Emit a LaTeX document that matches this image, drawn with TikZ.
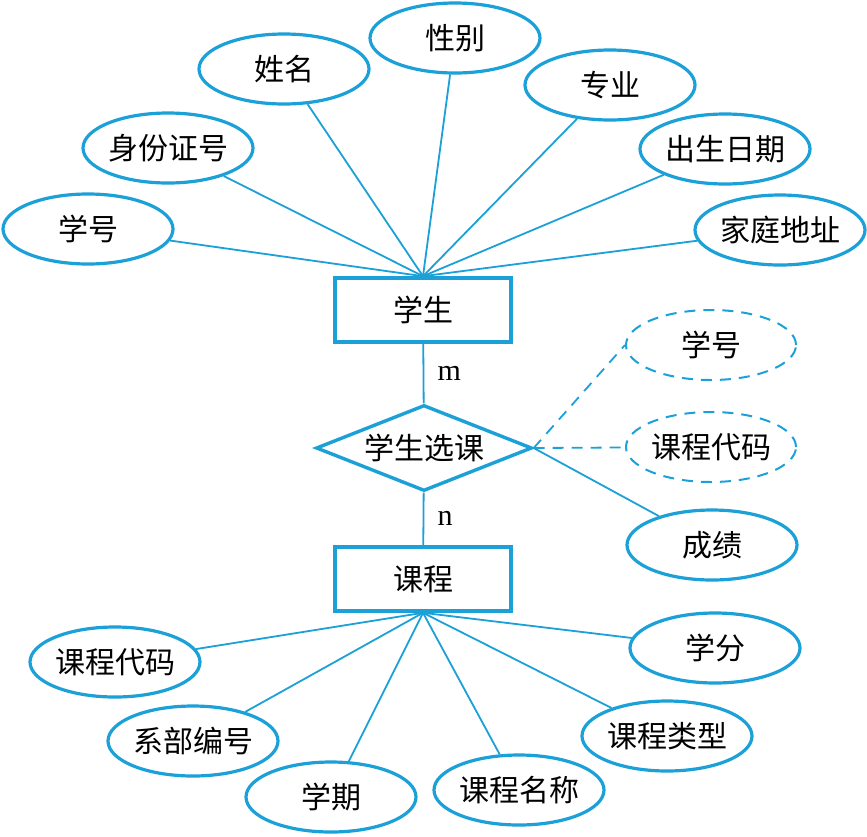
\documentclass[tikz,border=0pt]{standalone}
\usepackage{fontspec}
\setmainfont{Liberation Serif}
\newfontfamily\cjk{Noto Sans CJK SC}
\usepackage{tikz}
\usetikzlibrary{shapes.geometric}
\definecolor{erblue}{RGB}{27,160,215}

\begin{document}
\begin{tikzpicture}[x=1pt,y=-1pt,
  attr/.style={draw=erblue,line width=3.2pt,ellipse,minimum width=170pt,minimum height=70pt,inner sep=0pt,font=\cjk\fontsize{30}{32}\selectfont},
  keyattr/.style={attr,dashed,line width=2pt,dash pattern=on 11pt off 8pt},
  ent/.style={draw=erblue,line width=3.6pt,rectangle,minimum width=176pt,minimum height=64pt,font=\cjk\fontsize{30}{32}\selectfont},
  rel/.style={draw=erblue,line width=3.4pt,diamond,aspect=2.48,minimum width=216pt,minimum height=86pt,inner sep=0pt,font=\cjk\fontsize{30}{32}\selectfont},
  card/.style={right=10pt,font=\fontsize{30}{32}\selectfont},
  link/.style={draw=erblue,line width=1.8pt},
  dlink/.style={link,dash pattern=on 11pt off 8pt}]
\useasboundingbox (0,0) rectangle (867,836);
% entities and relationship
\node[ent] (stu) at (423,310) {学生};
\node[rel] (sel) at (424,448) {学生选课};
\node[ent] (crs) at (423,579) {课程};
% student attributes
\node[attr] (sno) at (88,229) {学号};
\node[attr] (sid) at (168,148) {身份证号};
\node[attr] (sname) at (284,69) {姓名};
\node[attr] (ssex) at (455,38) {性别};
\node[attr] (smaj) at (610,85) {专业};
\node[attr] (sbirth) at (725,149) {出生日期};
\node[attr] (saddr) at (780,230) {家庭地址};
\foreach \a in {sno,sid,sname,ssex,smaj,sbirth,saddr}
  \draw[link] (\a) -- (stu.north);
% selection attributes
\node[keyattr] (kno) at (711,345) {学号};
\node[keyattr] (kcode) at (711,447) {课程代码};
\node[attr] (grade) at (712,545) {成绩};
\draw[dlink] (sel.east) -- (kno.west);
\draw[dlink] (sel.east) -- (kcode);
\draw[link] (sel.east) -- (grade);
\draw[link] (stu) -- node[card]{m} (sel);
\draw[link] (sel) -- node[card]{n} (crs);
% course attributes
\node[attr] (ccode) at (115,662) {课程代码};
\node[attr] (cdept) at (193,741) {系部编号};
\node[attr] (cterm) at (331,797) {学期};
\node[attr] (cname) at (519,790) {课程名称};
\node[attr] (ctype) at (667,736) {课程类型};
\node[attr] (ccred) at (715,648) {学分};
\foreach \a in {ccode,cdept,cterm,cname,ctype,ccred}
  \draw[link] (crs.south) -- (\a);
\end{tikzpicture}
\end{document}
